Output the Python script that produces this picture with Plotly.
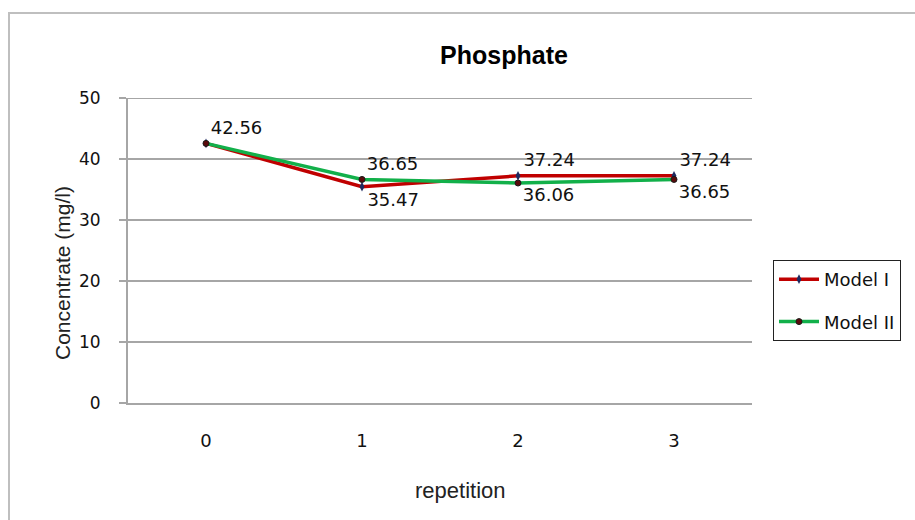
import plotly.graph_objects as go

# ---- data ----
categories = ["0", "1", "2", "3"]
model1_values = [42.56, 35.47, 37.24, 37.24]
model2_values = [42.56, 36.65, 36.06, 36.65]
model1_labels = ["", "35.47", "37.24", "37.24"]
model2_labels = ["42.56", "36.65", "36.06", "36.65"]
model1_label_pos = ["top right", "bottom right", "top right", "top right"]
model2_label_pos = ["top right", "top right", "bottom right", "bottom right"]
y_ticks = [0, 10, 20, 30, 40, 50]
title_text = "Phosphate"
x_title = "repetition"
y_title = "Concentrate (mg/l)"

W, H = 915, 520
L, R, T, B = 128, 752, 98, 403  # plot area pixels


def px(x):
    return (x - L) / (R - L)


def py(y):
    return (B - y) / (B - T)


label_font = dict(family="DejaVu Sans", size=18, color="#111111")

fig = go.Figure()
fig.add_trace(go.Scatter(
    x=categories, y=model1_values, name="Model I", mode="lines+markers+text",
    line=dict(color="#C00000", width=3.5),
    marker=dict(symbol="diamond-tall", size=7, color="#1F2A60"),
    text=model1_labels, textposition=model1_label_pos, textfont=label_font,
    legendgroup="a", cliponaxis=False,
))
fig.add_trace(go.Scatter(
    x=categories, y=model2_values, name="Model II", mode="lines+markers+text",
    line=dict(color="#12B04A", width=3.5),
    marker=dict(symbol="circle", size=6, color="#5A0A0A",
                line=dict(color="#1a1a1a", width=1)),
    text=model2_labels, textposition=model2_label_pos, textfont=label_font,
    legendgroup="b", cliponaxis=False,
))

axis_gray = "#A6A6A6"
fig.update_layout(
    width=W, height=H, autosize=False,
    margin=dict(l=L, r=W - R, t=T, b=H - B, pad=0),
    paper_bgcolor="white", plot_bgcolor="white",
    title=dict(text="<b>" + title_text + "</b>", x=px(504), xref="paper", xanchor="center",
               y=1 - 55 / H, yref="container", yanchor="middle",
               font=dict(family="Liberation Sans", size=25, color="#000000")),
    xaxis=dict(
        type="category", range=[-0.5, 3.5],
        showline=True, linecolor=axis_gray, linewidth=2,
        showgrid=False, ticks="", ticklabelstandoff=20,
        tickfont=dict(family="DejaVu Sans", size=18, color="#111111"),
        zeroline=False,
    ),
    yaxis=dict(
        range=[0, 50], tickvals=y_ticks,
        showline=True, linecolor=axis_gray, linewidth=2,
        showgrid=True, gridcolor=axis_gray, gridwidth=2,
        ticks="outside", ticklen=7, tickcolor=axis_gray, tickwidth=2,
        ticklabelstandoff=15,
        tickfont=dict(family="DejaVu Sans", size=17, color="#111111"),
        zeroline=False,
    ),
    showlegend=True,
    legend=dict(
        xref="container", yref="container",
        x=773 / W, xanchor="left", y=1 - 260 / H, yanchor="top",
        bordercolor="#222222", borderwidth=1, bgcolor="white",
        font=dict(family="DejaVu Sans", size=18, color="#111111"),
        tracegroupgap=16, itemwidth=40,
    ),
    annotations=[
        dict(text=x_title, x=px(460), y=py(490), xref="paper", yref="paper",
             showarrow=False, xanchor="center", yanchor="middle",
             font=dict(family="Liberation Sans", size=22, color="#222222")),
        dict(text=y_title, x=px(62), y=py(273), xref="paper", yref="paper",
             showarrow=False, xanchor="center", yanchor="middle", textangle=-90,
             font=dict(family="Liberation Sans", size=21, color="#222222")),
    ],
    shapes=[
        dict(type="rect", xref="paper", yref="paper",
             x0=px(9), x1=px(930), y0=py(535), y1=py(13),
             line=dict(color="#BFBFBF", width=2), fillcolor="rgba(0,0,0,0)", layer="below"),
        # top gridline (plotly omits the gridline at the range edge)
        dict(type="line", xref="paper", yref="y", x0=0, x1=1,
             y0=y_ticks[-1], y1=y_ticks[-1],
             line=dict(color=axis_gray, width=2), layer="below"),
    ],
)

fig.write_html("out.html")
